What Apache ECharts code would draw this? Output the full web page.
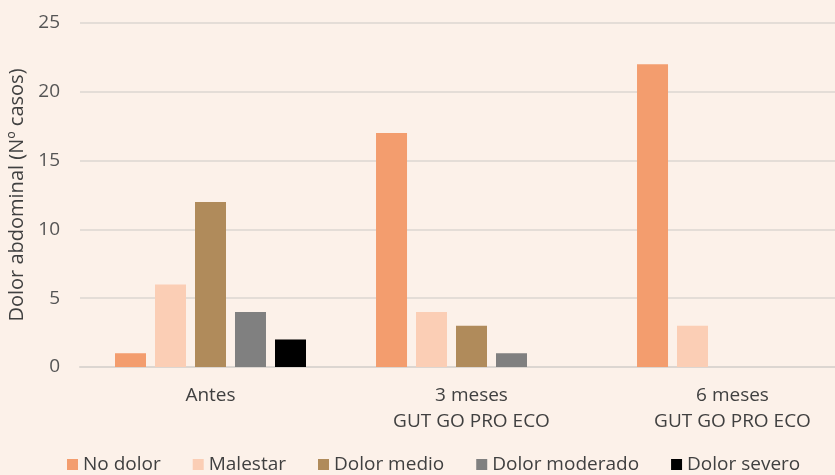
<!DOCTYPE html>
<html>
<head>
<meta charset="utf-8">
<script src="https://cdn.jsdelivr.net/npm/echarts@6/dist/echarts.min.js"></script>
<style>
html,body{margin:0;padding:0;background:#fcf1e9;overflow:hidden;}
#chart{width:875px;height:475px;}
</style>
</head>
<body>
<div id="chart"></div>
<script>
const categories = ['Antes', '3 meses\nGUT GO PRO ECO', '6 meses\nGUT GO PRO ECO'];
const seriesNames = ['No dolor', 'Malestar', 'Dolor medio', 'Dolor moderado', 'Dolor severo'];
const noDolor = [1, 17, 22];
const malestar = [6, 4, 3];
const dolorMedio = [12, 3, 0];
const dolorModerado = [4, 1, 0];
const dolorSevero = [2, 0, 0];
const yTicks = [0, 5, 10, 15, 20, 25];

const colors = ['#f39d6e', '#fbceb5', '#b08b5b', '#808080', '#000000'];
const values = [noDolor, malestar, dolorMedio, dolorModerado, dolorSevero];
const font = 'Open Sans';
const chart = echarts.init(document.getElementById('chart'));
chart.setOption({
  backgroundColor: '#fcf1e9',
  animation: false,
  grid: { left: 80, width: 783, top: 23, bottom: 108, containLabel: false, outerBoundsMode: 'none' },
  legend: {
    left: 67, top: 455, padding: 0,
    itemWidth: 11, itemHeight: 11, itemGap: 32,
    icon: 'rect',
    textStyle: { fontFamily: font, fontSize: 19, color: '#404040' },
    data: seriesNames
  },
  xAxis: {
    type: 'category',
    data: categories,
    axisTick: { show: false },
    axisLine: { lineStyle: { color: '#dcd6d1', width: 2 } },
    axisLabel: { fontFamily: font, fontSize: 19, color: '#404040', margin: 16, lineHeight: 26 }
  },
  yAxis: {
    type: 'value',
    min: yTicks[0], max: yTicks[yTicks.length - 1], interval: 5,
    name: 'Dolor abdominal (Nº casos)',
    nameLocation: 'middle', nameGap: 51,
    nameTextStyle: { fontFamily: font, fontSize: 20, color: '#404040' },
    axisLabel: { fontFamily: font, fontSize: 19, color: '#555555', margin: 20 },
    splitLine: { lineStyle: { color: '#e4ddd7', width: 2 } }
  },
  series: seriesNames.map((n, i) => ({
    name: n,
    type: 'bar',
    data: values[i],
    barWidth: 31,
    barGap: '29%',
    itemStyle: { color: colors[i] }
  }))
});
</script>
</body>
</html>
